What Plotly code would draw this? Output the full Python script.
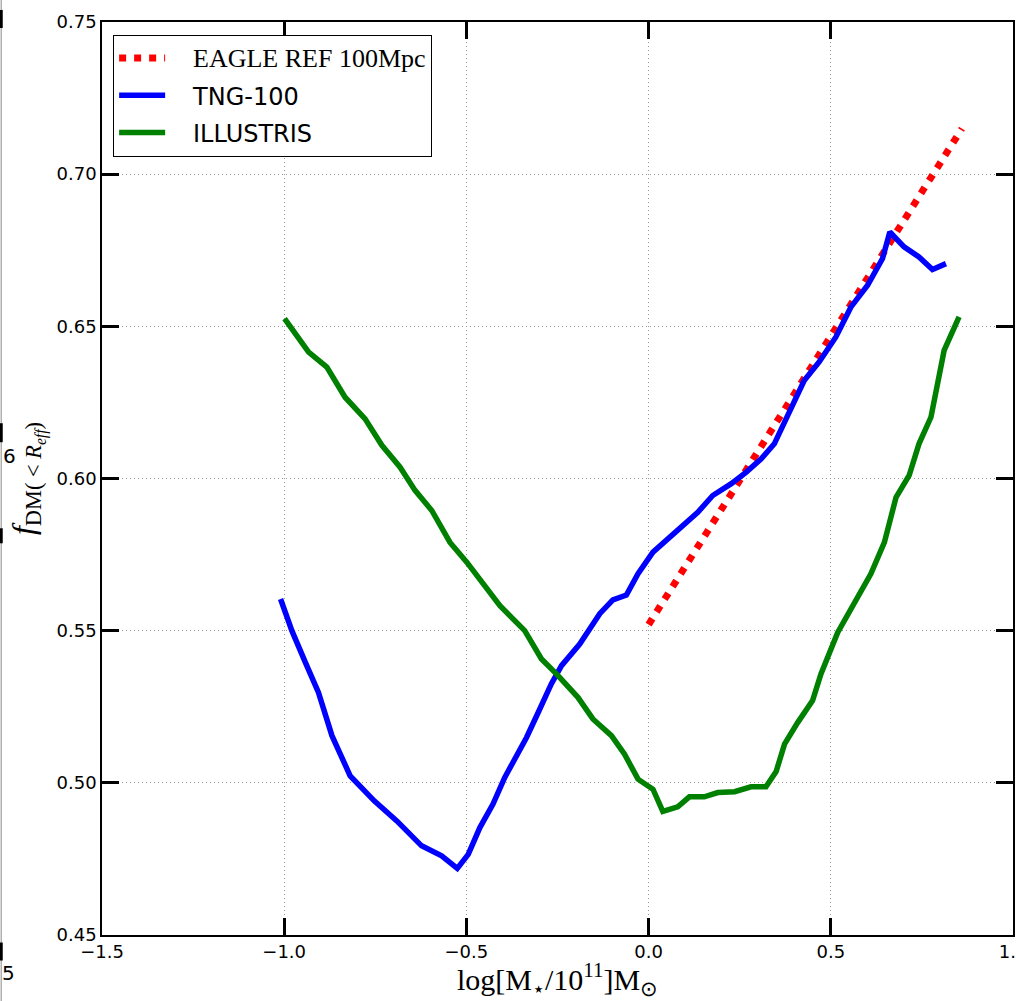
import plotly.graph_objects as go

# ---------------- data ----------------
eagle_x = [0.0, 0.1, 0.2, 0.3, 0.4, 0.5, 0.6, 0.7, 0.8, 0.86]
eagle_y = [0.552, 0.571, 0.590, 0.609, 0.628, 0.647, 0.666, 0.685, 0.704, 0.715]

tng_x = [-1.01, -0.979, -0.942, -0.906, -0.869, -0.819, -0.753, -0.691, -0.623, -0.568,
         -0.525, -0.495, -0.463, -0.427, -0.395, -0.335, -0.303, -0.267, -0.239, -0.189,
         -0.134, -0.098, -0.061, -0.029, 0.012, 0.058, 0.094, 0.135, 0.176, 0.227,
         0.268, 0.309, 0.345, 0.377, 0.427, 0.468, 0.514, 0.555, 0.601, 0.642,
         0.662, 0.701, 0.742, 0.779, 0.816]
tng_y = [0.5604, 0.550, 0.5396, 0.5297, 0.5155, 0.5023, 0.4941, 0.4875, 0.4793, 0.4760,
         0.4719, 0.4765, 0.4853, 0.4930, 0.5017, 0.5149, 0.5231, 0.5325, 0.5385, 0.5456,
         0.5556, 0.5601, 0.5617, 0.5687, 0.5758, 0.5807, 0.5845, 0.5889, 0.5944, 0.5983,
         0.6021, 0.6065, 0.6114, 0.6196, 0.6322, 0.6383, 0.6465, 0.6563, 0.6635, 0.6723,
         0.6810, 0.6761, 0.6728, 0.6687, 0.6706]

ill_x = [-0.999, -0.933, -0.883, -0.833, -0.778, -0.732, -0.682, -0.641, -0.595, -0.545,
         -0.499, -0.458, -0.408, -0.340, -0.294, -0.253, -0.194, -0.153, -0.102, -0.066,
         -0.029, 0.012, 0.039, 0.080, 0.112, 0.153, 0.190, 0.236, 0.281, 0.322,
         0.350, 0.373, 0.409, 0.450, 0.473, 0.519, 0.564, 0.610, 0.647, 0.679,
         0.715, 0.742, 0.775, 0.811, 0.852]
ill_y = [0.6525, 0.6415, 0.6366, 0.6267, 0.6196, 0.6109, 0.6037, 0.5961, 0.5895, 0.5790,
         0.5725, 0.5659, 0.5582, 0.5500, 0.5407, 0.5358, 0.5281, 0.5210, 0.5155, 0.5094,
         0.5012, 0.4979, 0.4906, 0.4921, 0.4954, 0.4954, 0.4968, 0.4971, 0.4987, 0.4987,
         0.5037, 0.5127, 0.5198, 0.5270, 0.5358, 0.5494, 0.5593, 0.5687, 0.5790, 0.5938,
         0.6010, 0.6114, 0.6202, 0.6421, 0.6531]

x_ticks = [-1.5, -1.0, -0.5, 0.0, 0.5, 1.0]
y_ticks = [0.45, 0.50, 0.55, 0.60, 0.65, 0.70, 0.75]

PAD = "\u00a0\u00a0\u00a0"
names = [PAD + "<span style='font-family:Liberation Serif;font-size:26px'>EAGLE REF 100Mpc</span>",
         PAD + "TNG-100", PAD + "ILLUSTRIS"]

# ---------------- figure ----------------
fig = go.Figure()
fig.add_trace(go.Scatter(x=eagle_x, y=eagle_y, mode="lines", name=names[0],
                         legendgroup="a",
                         line=dict(color="#ff0000", width=7, dash="7px,8px")))
fig.add_trace(go.Scatter(x=tng_x, y=tng_y, mode="lines", name=names[1],
                         legendgroup="b",
                         line=dict(color="#0000ff", width=5.5)))
fig.add_trace(go.Scatter(x=ill_x, y=ill_y, mode="lines", name=names[2],
                         legendgroup="c",
                         line=dict(color="#008000", width=5.5)))

axis_common = dict(
    showline=True, linecolor="black", linewidth=1.5, mirror="allticks",
    ticks="inside", ticklen=17, tickwidth=2.5, tickcolor="black",
    showgrid=True, gridcolor="#999999", griddash="1px,3px", gridwidth=1.2,
    zeroline=False, tickfont=dict(family="DejaVu Sans", size=18, color="black"),
    automargin=False, ticklabeloverflow="allow",
)

fig.update_xaxes(range=[-1.5, 1.0], tickvals=x_ticks, tickformat=".1f",
                 title=dict(text="log[M<sub>⋆</sub>/10<sup>11</sup>]M<sub>⊙</sub>",
                            font=dict(family="Liberation Serif", size=30, color="black"),
                            standoff=10),
                 **axis_common)
fig.update_yaxes(range=[0.45, 0.75], tickvals=y_ticks, tickformat=".2f",
                 title=dict(text="<i>f</i><sub>DM( &lt; <i>R</i><sub><i>eff</i></sub>)</sub>",
                            font=dict(family="Liberation Serif", size=32, color="black"),
                            standoff=12),
                 **axis_common)

# remnants of neighbouring panel at the far left edge
shapes = [dict(type="line", xref="paper", yref="paper",
               x0=-0.1106, x1=-0.1106, y0=-0.08, y1=1.03,
               line=dict(color="#b0b0b0", width=1.5))]
for (a, b) in [(10, 28), (423, 442), (528, 543), (942, 960)]:
    shapes.append(dict(type="line", xref="paper", yref="paper",
                       x0=-0.1106, x1=-0.1106,
                       y0=1 - (a - 22) / 912.5, y1=1 - (b - 22) / 912.5,
                       line=dict(color="black", width=3)))

annotations = [
    dict(text="6", xref="paper", yref="paper", x=(1 - 102) / 911.5, y=1 - (456 - 22) / 912.5,
         showarrow=False, font=dict(family="DejaVu Sans", size=20, color="black"),
         xanchor="left", yanchor="middle"),
    dict(text="5", xref="paper", yref="paper", x=(0 - 102) / 911.5, y=1 - (972 - 22) / 912.5,
         showarrow=False, font=dict(family="DejaVu Sans", size=20, color="black"),
         xanchor="left", yanchor="middle"),
]

fig.update_layout(
    width=1016, height=1001,
    margin=dict(l=102, r=3, t=22, b=66, pad=0),
    paper_bgcolor="white", plot_bgcolor="white",
    showlegend=True,
    legend=dict(x=0.012, y=0.986, xanchor="left", yanchor="top",
                bgcolor="white", bordercolor="black", borderwidth=1.2,
                font=dict(family="DejaVu Sans", size=24, color="black"),
                itemwidth=46, tracegroupgap=3, traceorder="grouped"),
    shapes=shapes, annotations=annotations,
)

fig.write_html("out.html")
